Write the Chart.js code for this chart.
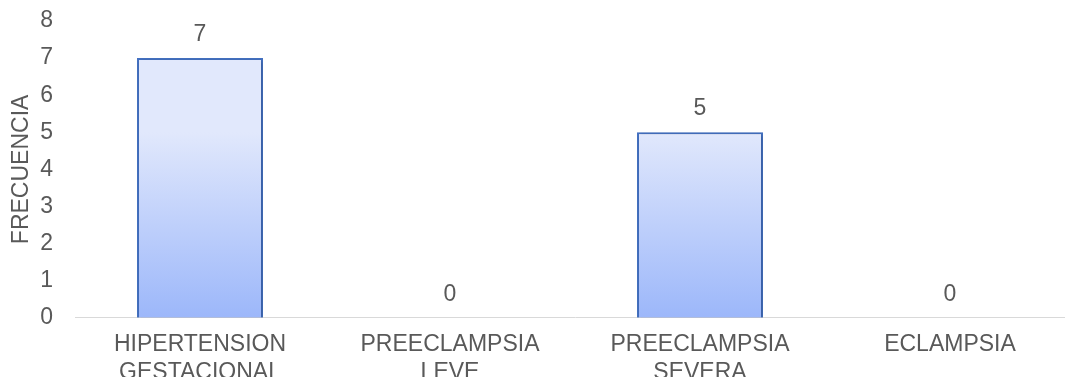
<!DOCTYPE html>
<html>
<head>
<meta charset="utf-8">
<script src="https://cdn.jsdelivr.net/npm/chart.js@4"></script>
<style>
  html, body { margin: 0; padding: 0; background: #fff; overflow: hidden; }
  #wrap { width: 1075px; height: 404px; margin-top: -16px; }
</style>
</head>
<body>
<div id="wrap"><canvas id="chart"></canvas></div>
<script>
const categories = [
    ["HIPERTENSION", "GESTACIONAL"],
    ["PREECLAMPSIA", "LEVE"],
    ["PREECLAMPSIA", "SEVERA"],
    "ECLAMPSIA"
];
const frecuencia = [7, 0, 5, 0];
const yTicks = [0, 1, 2, 3, 4, 5, 6, 7, 8];

const textColor = "#595959";
const font = { family: "Arial, 'Liberation Sans', sans-serif", size: 23, lineHeight: 1.3 };
const xFont = { family: font.family, size: 23, lineHeight: 1.2 };

// gradient per bar, light on top and darker at the base
const barGradient = {
    id: "barGradient",
    beforeDatasetsDraw(chart) {
        const ctx = chart.ctx;
        chart.getDatasetMeta(0).data.forEach(bar => {
            if (bar.base - bar.y < 1) return;
            const g = ctx.createLinearGradient(0, bar.y, 0, bar.base);
            g.addColorStop(0, "#e1e8fc");
            g.addColorStop(1, "#9cb7fa");
            bar.options.backgroundColor = g;
        });
        ctx.save();
        ctx.shadowColor = "rgba(0,0,0,0.25)";
        ctx.shadowBlur = 4;
        ctx.shadowOffsetX = 1;
        ctx.shadowOffsetY = 1;
    },
    afterDatasetsDraw(chart) {
        chart.ctx.restore();
    }
};

// value labels above the bars
const valueLabels = {
    id: "valueLabels",
    afterDatasetsDraw(chart) {
        const ctx = chart.ctx;
        ctx.save();
        ctx.font = `${font.size}px ${font.family}`;
        ctx.fillStyle = textColor;
        ctx.textAlign = "center";
        ctx.textBaseline = "alphabetic";
        chart.getDatasetMeta(0).data.forEach((bar, i) => {
            ctx.fillText(frecuencia[i], bar.x, bar.y - 17);
        });
        ctx.restore();
    }
};

new Chart(document.getElementById("chart"), {
    type: "bar",
    data: {
        labels: categories,
        datasets: [{
            label: "FRECUENCIA",
            data: frecuencia,
            backgroundColor: "#c0d0fb",
            borderColor: "#4472c4",
            borderWidth: 2,
            borderSkipped: "bottom",
            barPercentage: 0.504,
            categoryPercentage: 1
        }]
    },
    options: {
        responsive: true,
        maintainAspectRatio: false,
        animation: false,
        layout: { padding: { top: 0, left: 0, right: 0, bottom: -11 } },
        plugins: {
            legend: { display: false },
            tooltip: { enabled: false }
        },
        scales: {
            x: {
                grid: { display: false, drawTicks: false },
                border: { color: "#d9d9d9", width: 1 },
                ticks: { color: textColor, font: xFont, padding: 13, maxRotation: 0 }
            },
            y: {
                min: 0,
                max: 8,
                afterBuildTicks: axis => { axis.ticks = yTicks.map(v => ({ value: v })); },
                afterFit: axis => { axis.width = 75; },
                grid: { display: false, drawTicks: false },
                border: { display: false },
                ticks: { color: textColor, font: font, padding: 22 },
                title: {
                    display: true,
                    text: "FRECUENCIA",
                    color: textColor,
                    font: font,
                    padding: { top: 7, bottom: 0 }
                }
            }
        }
    },
    plugins: [barGradient, valueLabels]
});
</script>
</body>
</html>
